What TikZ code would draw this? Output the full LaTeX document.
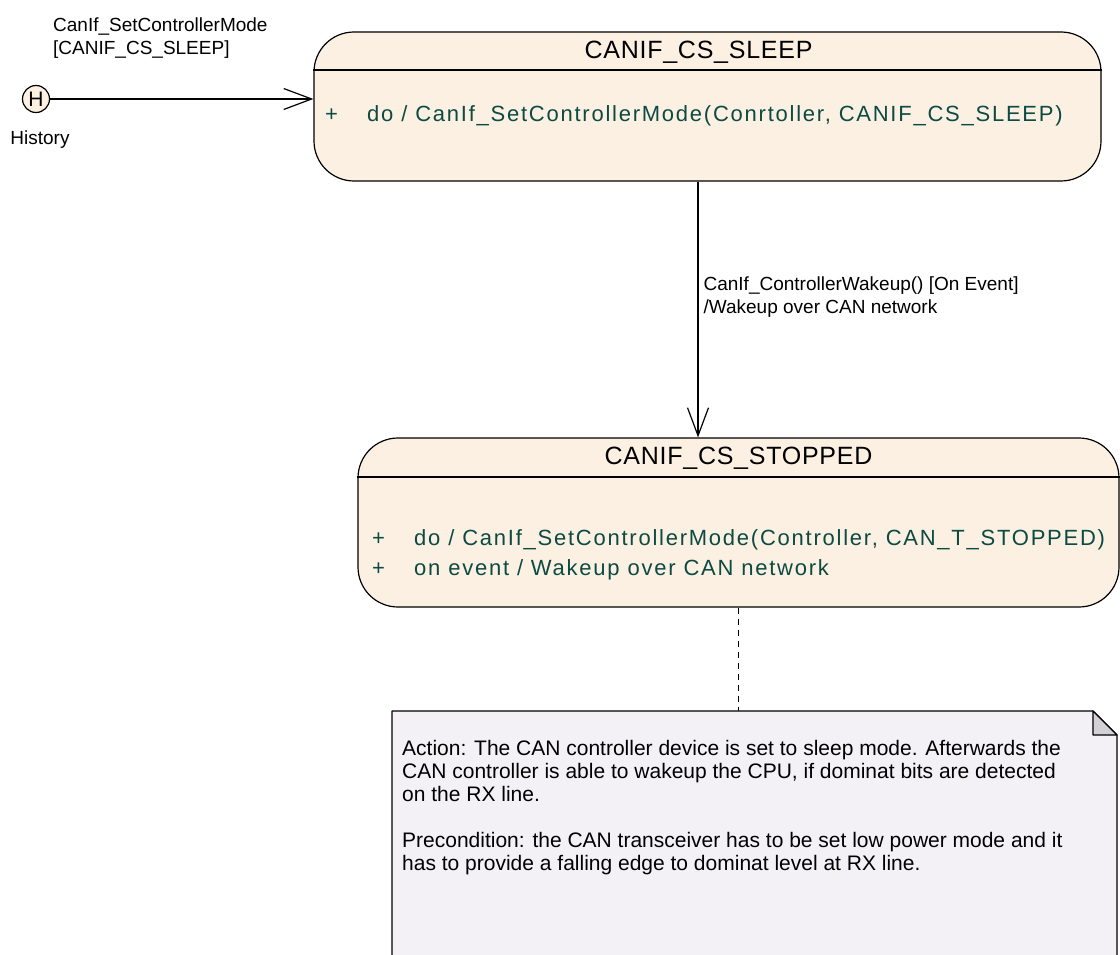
\documentclass[tikz,border=0pt]{standalone}
\usepackage{fontspec}
\setmainfont{Liberation Sans}
\newfontfamily\spacedfont[LetterSpace=8]{Liberation Sans}
\newfontfamily\titlefont[LetterSpace=3]{Liberation Sans}
\usetikzlibrary{positioning, arrows.meta}

\definecolor{statefill}{HTML}{FBF0E1}
\definecolor{notefill}{HTML}{F4F1F6}
\definecolor{foldfill}{HTML}{D3D0D6}
\definecolor{actiontext}{HTML}{0C4A44}

\tikzset{
  umlstate/.style={draw, fill=statefill, rounded corners=40pt, line width=1.2pt, inner sep=0pt},
  statetitle/.style={font=\titlefont\fontsize{25}{28}\selectfont},
  actions/.style={anchor=west, align=left, text=actiontext, inner sep=0pt,
    font=\spacedfont\fontsize{22}{30}\selectfont},
  trlabel/.style={align=left, inner sep=0pt, font=\fontsize{19}{23}\selectfont},
  notetext/.style={align=left, inner sep=0pt, anchor=north west, font=\fontsize{21}{23}\selectfont},
  transition/.style={line width=1.2pt, -{Straight Barb[length=28pt, width=21pt, line width=1.2pt]}},
}

\begin{document}
\begin{tikzpicture}[x=1pt, y=-1pt, line join=round]
    \useasboundingbox (0,0) rectangle (1120,955);

    % States
    \node[umlstate, minimum width=787pt, minimum height=149pt] (sleep) at (707.5,106.5) {};
    \draw[line width=1.2pt] (sleep.west |- 0,70) -- (sleep.east |- 0,70);
    \node[statetitle] (sleeptitle) at (698.5,52) {CANIF\_CS\_SLEEP};
    \node[actions] (sleepdo) at (325,116) {\makebox[42pt][l]{+}do / CanIf\_SetControllerMode(Conrtoller, CANIF\_CS\_SLEEP)};

    \node[umlstate, minimum width=761pt, minimum height=169pt] (stopped) at (738.5,522.5) {};
    \draw[line width=1.2pt] (stopped.west |- 0,477) -- (stopped.east |- 0,477);
    \node[statetitle] (stoppedtitle) at (738.5,458) {CANIF\_CS\_STOPPED};
    \node[actions] (stoppeddo) at (372,555) {\makebox[42pt][l]{+}do / CanIf\_SetControllerMode(Controller, CAN\_T\_STOPPED)\\
      \makebox[42pt][l]{+}on event / Wakeup over CAN network};

    % History pseudo state
    \node[draw, circle, fill=statefill, line width=1.2pt, minimum size=27pt, inner sep=0pt,
      font=\fontsize{21}{21}\selectfont] (hist) at (36,99) {H};
    \node[trlabel] (histlabel) at (40,140) {History};

    % Transitions
    \draw[transition] (hist) -- (hist -| sleep.west);
    \node[trlabel, anchor=north west] (histtr) at (53,18) {CanIf\_SetControllerMode\\{}[CANIF\_CS\_SLEEP]};

    \draw[transition] ([xshift=-9.5pt]sleep.south) -- ([xshift=-40.5pt]stopped.north)
      node[pos=0.45, right=5pt, trlabel] (wakelabel) {CanIf\_ControllerWakeup() [On Event]\\/Wakeup over CAN network};

    % Note
    \coordinate (notetop) at (stopped.south |- 0,711);
    \path[fill=notefill, draw, line width=1.2pt] (392,960) -- (392,711) -- (1093,711) -- (1117,735) -- (1117,960);
    \path[fill=foldfill, draw, line width=1.2pt] (1093,711) -- (1093,735) -- (1117,735) -- cycle;
    \draw[dash pattern=on 6pt off 5pt, line width=1.2pt] (stopped.south) -- (notetop);
    \node[notetext] (note) at (402,740) {Action: The CAN controller device is set to sleep mode. Afterwards the\\
      CAN controller is able to wakeup the CPU, if dominat bits are detected\\
      on the RX line.\\[23pt]
      Precondition: the CAN transceiver has to be set low power mode and it\\
      has to provide a falling edge to dominat level at RX line.};
\end{tikzpicture}
\end{document}
